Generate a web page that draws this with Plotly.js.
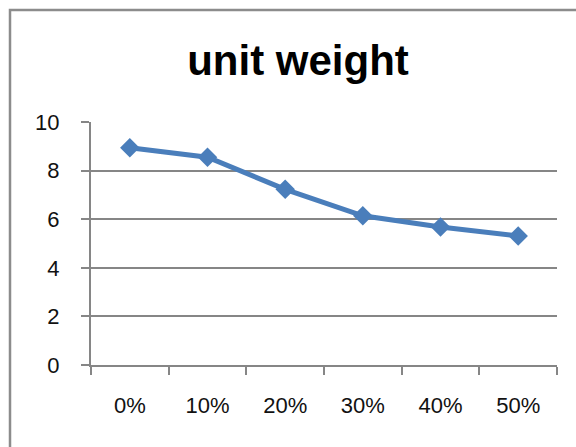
<!DOCTYPE html>
<html>
<head>
<meta charset="utf-8">
<script src="https://cdn.plot.ly/plotly-3.0.1.min.js"></script>
<style>
html,body{margin:0;padding:0;background:#fff;}
#chart{width:576px;height:447px;}
</style>
</head>
<body>
<div id="chart"></div>
<script>
const categories = ["0%", "10%", "20%", "30%", "40%", "50%"];
const unitWeight = [8.94, 8.55, 7.23, 6.14, 5.68, 5.31];
const yTicks = [0, 2, 4, 6, 8, 10];
const chartTitle = "unit weight";

const W = 576, H = 447;
const L = 91, R = 19, T = 122, B = 82;
const pw = W - L - R, ph = H - T - B;
const px = v => (v - L) / pw;
const py = v => (H - B - v) / ph;

const trace = {
  x: categories,
  y: unitWeight,
  type: "scatter",
  mode: "lines+markers",
  line: {color: "#4A7EBB", width: 5},
  marker: {symbol: "diamond", size: 15, color: "#4A7EBB"},
  hoverinfo: "x+y"
};

const tickFont = {family: "Liberation Sans, Arial, sans-serif", size: 22, color: "#111"};

const layout = {
  width: W, height: H,
  margin: {l: L, r: R, t: T, b: B, pad: 0},
  paper_bgcolor: "#fff",
  plot_bgcolor: "#fff",
  showlegend: false,
  title: {
    text: "<b>" + chartTitle + "</b>",
    font: {family: "Liberation Sans, Arial, sans-serif", size: 42, color: "#000"},
    x: 298 / W, xanchor: "center", xref: "container",
    y: 1 - 60 / H, yanchor: "middle", yref: "container"
  },
  xaxis: {
    type: "category",
    range: [-0.5, 5.5],
    tickson: "boundaries",
    ticks: "outside", ticklen: 8, tickwidth: 2, tickcolor: "#868686",
    showline: true, linecolor: "#868686", linewidth: 2,
    showgrid: false, zeroline: false,
    tickfont: tickFont,
    ticklabelstandoff: 20,
    fixedrange: true
  },
  yaxis: {
    range: [0, 10],
    tickvals: yTicks,
    ticktext: yTicks.map(String),
    ticks: "outside", ticklen: 8, tickwidth: 2, tickcolor: "#868686",
    showline: true, linecolor: "#868686", linewidth: 2,
    showgrid: true, gridcolor: "#868686", gridwidth: 2,
    zeroline: false,
    tickfont: tickFont,
    ticklabelstandoff: 17,
    fixedrange: true
  },
  shapes: [{
    type: "rect", xref: "paper", yref: "paper",
    x0: px(10), x1: px(W + 20), y0: py(H + 20), y1: py(10),
    line: {color: "#8C8C8C", width: 2.5},
    fillcolor: "rgba(0,0,0,0)",
    layer: "below"
  }]
};

Plotly.newPlot("chart", [trace], layout, {displayModeBar: false, staticPlot: true});
</script>
</body>
</html>
